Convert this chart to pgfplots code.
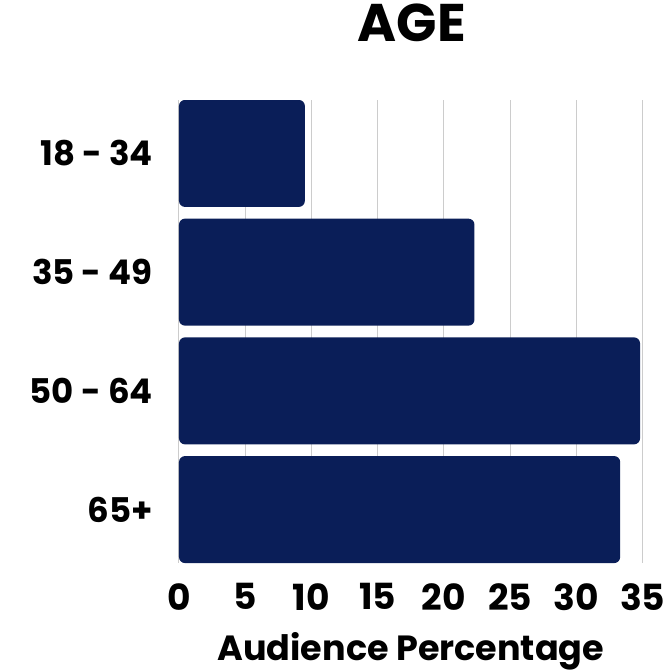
\documentclass[border=0pt]{standalone}
\usepackage{pgfplots}
\pgfplotsset{compat=1.18}
\usepackage{fontspec}
\setmainfont{Poppins}
\definecolor{navy}{HTML}{0A1E58}
\definecolor{gridgrey}{HTML}{CCCCCC}
\begin{document}
\begin{tikzpicture}
\path[use as bounding box] (0pt,0pt) rectangle (666pt,672pt);
\begin{axis}[
  at={(179pt,109pt)}, anchor=south west,
  scale only axis, width=463.7pt, height=463pt,
  xmin=0, xmax=35, ymin=-0.45, ymax=3.45, y dir=reverse,
  xtick={0,5,10,15,20,25,30,35},
  ytick={0,1,2,3},
  yticklabels={18 - 34,35 - 49,50 - 64,65+},
  xmajorgrids, grid style={gridgrey, line width=1pt},
  axis line style={draw=none},
  major tick length=0pt,
  tick style={draw=none},
  /pgf/number format/assume math mode=true,
  xticklabel style={font=\fontsize{36}{40}\selectfont\bfseries, anchor=north, inner sep=0pt, yshift=-20pt},
  yticklabel style={font=\fontsize{34}{40}\selectfont\bfseries, anchor=east, inner sep=0pt, xshift=-26pt},
  title={AGE},
  title style={font=\fontsize{53}{60}\selectfont\bfseries, at={(axis description cs:0.5,1)}, anchor=base, yshift=52.3pt, xshift=1pt},
  xlabel={Audience Percentage},
  xlabel style={font=\fontsize{35}{40}\selectfont\bfseries, at={(axis description cs:0.5,0)}, anchor=base, yshift=-97pt},
  xbar, bar width=107pt,
]
\addplot[fill=navy, draw=none, rounded corners=6pt] coordinates {
  (9.5,0) (22.3,1) (34.8,2) (33.3,3)
};
\end{axis}
\end{tikzpicture}
\end{document}
